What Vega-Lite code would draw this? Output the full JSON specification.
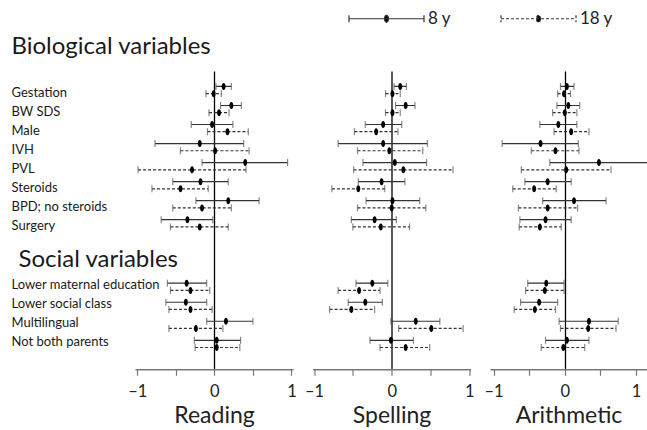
{
  "$schema": "https://vega.github.io/schema/vega-lite/v6.json",
  "padding": {"left": 11, "right": 0, "top": 10, "bottom": 0},
  "bounds": "flush",
  "spacing": 19.5,
  "datasets": {
    "d": [
      {"subject":"Reading","item":"Gestation","age":"8 y","est":0.12,"lo":0.02,"hi":0.22},
      {"subject":"Reading","item":"Gestation","age":"18 y","est":-0.01,"lo":-0.11,"hi":0.09},
      {"subject":"Reading","item":"BW SDS","age":"8 y","est":0.22,"lo":0.08,"hi":0.35},
      {"subject":"Reading","item":"BW SDS","age":"18 y","est":0.06,"lo":-0.07,"hi":0.19},
      {"subject":"Reading","item":"Male","age":"8 y","est":-0.03,"lo":-0.30,"hi":0.24},
      {"subject":"Reading","item":"Male","age":"18 y","est":0.17,"lo":-0.09,"hi":0.44},
      {"subject":"Reading","item":"IVH","age":"8 y","est":-0.19,"lo":-0.77,"hi":0.38},
      {"subject":"Reading","item":"IVH","age":"18 y","est":0.01,"lo":-0.44,"hi":0.45},
      {"subject":"Reading","item":"PVL","age":"8 y","est":0.40,"lo":-0.16,"hi":0.95},
      {"subject":"Reading","item":"PVL","age":"18 y","est":-0.29,"lo":-0.99,"hi":0.41},
      {"subject":"Reading","item":"Steroids","age":"8 y","est":-0.18,"lo":-0.54,"hi":0.18},
      {"subject":"Reading","item":"Steroids","age":"18 y","est":-0.44,"lo":-0.81,"hi":-0.08},
      {"subject":"Reading","item":"BPD; no steroids","age":"8 y","est":0.18,"lo":-0.24,"hi":0.58},
      {"subject":"Reading","item":"BPD; no steroids","age":"18 y","est":-0.16,"lo":-0.54,"hi":0.22},
      {"subject":"Reading","item":"Surgery","age":"8 y","est":-0.35,"lo":-0.69,"hi":-0.02},
      {"subject":"Reading","item":"Surgery","age":"18 y","est":-0.19,"lo":-0.57,"hi":0.18},
      {"subject":"Reading","item":"Lower maternal education","age":"8 y","est":-0.36,"lo":-0.61,"hi":-0.10},
      {"subject":"Reading","item":"Lower maternal education","age":"18 y","est":-0.31,"lo":-0.57,"hi":-0.06},
      {"subject":"Reading","item":"Lower social class","age":"8 y","est":-0.37,"lo":-0.63,"hi":-0.10},
      {"subject":"Reading","item":"Lower social class","age":"18 y","est":-0.31,"lo":-0.59,"hi":-0.03},
      {"subject":"Reading","item":"Multilingual","age":"8 y","est":0.15,"lo":-0.10,"hi":0.50},
      {"subject":"Reading","item":"Multilingual","age":"18 y","est":-0.24,"lo":-0.59,"hi":0.11},
      {"subject":"Reading","item":"Not both parents","age":"8 y","est":0.03,"lo":-0.26,"hi":0.34},
      {"subject":"Reading","item":"Not both parents","age":"18 y","est":0.03,"lo":-0.25,"hi":0.33},
      {"subject":"Spelling","item":"Gestation","age":"8 y","est":0.11,"lo":0.03,"hi":0.19},
      {"subject":"Spelling","item":"Gestation","age":"18 y","est":0.01,"lo":-0.08,"hi":0.11},
      {"subject":"Spelling","item":"BW SDS","age":"8 y","est":0.18,"lo":0.05,"hi":0.30},
      {"subject":"Spelling","item":"BW SDS","age":"18 y","est":0.01,"lo":-0.08,"hi":0.11},
      {"subject":"Spelling","item":"Male","age":"8 y","est":-0.11,"lo":-0.34,"hi":0.13},
      {"subject":"Spelling","item":"Male","age":"18 y","est":-0.20,"lo":-0.48,"hi":0.08},
      {"subject":"Spelling","item":"IVH","age":"8 y","est":-0.11,"lo":-0.69,"hi":0.46},
      {"subject":"Spelling","item":"IVH","age":"18 y","est":-0.03,"lo":-0.44,"hi":0.40},
      {"subject":"Spelling","item":"PVL","age":"8 y","est":0.04,"lo":-0.37,"hi":0.45},
      {"subject":"Spelling","item":"PVL","age":"18 y","est":0.15,"lo":-0.49,"hi":0.79},
      {"subject":"Spelling","item":"Steroids","age":"8 y","est":-0.13,"lo":-0.43,"hi":0.17},
      {"subject":"Spelling","item":"Steroids","age":"18 y","est":-0.43,"lo":-0.77,"hi":-0.09},
      {"subject":"Spelling","item":"BPD; no steroids","age":"8 y","est":0.01,"lo":-0.33,"hi":0.36},
      {"subject":"Spelling","item":"BPD; no steroids","age":"18 y","est":0.00,"lo":-0.44,"hi":0.44},
      {"subject":"Spelling","item":"Surgery","age":"8 y","est":-0.22,"lo":-0.52,"hi":0.06},
      {"subject":"Spelling","item":"Surgery","age":"18 y","est":-0.14,"lo":-0.50,"hi":0.23},
      {"subject":"Spelling","item":"Lower maternal education","age":"8 y","est":-0.25,"lo":-0.46,"hi":-0.05},
      {"subject":"Spelling","item":"Lower maternal education","age":"18 y","est":-0.42,"lo":-0.69,"hi":-0.15},
      {"subject":"Spelling","item":"Lower social class","age":"8 y","est":-0.34,"lo":-0.56,"hi":-0.12},
      {"subject":"Spelling","item":"Lower social class","age":"18 y","est":-0.52,"lo":-0.80,"hi":-0.22},
      {"subject":"Spelling","item":"Multilingual","age":"8 y","est":0.31,"lo":-0.01,"hi":0.62},
      {"subject":"Spelling","item":"Multilingual","age":"18 y","est":0.51,"lo":0.09,"hi":0.92},
      {"subject":"Spelling","item":"Not both parents","age":"8 y","est":-0.01,"lo":-0.28,"hi":0.28},
      {"subject":"Spelling","item":"Not both parents","age":"18 y","est":0.18,"lo":-0.15,"hi":0.49},
      {"subject":"Arithmetic","item":"Gestation","age":"8 y","est":0.03,"lo":-0.06,"hi":0.13},
      {"subject":"Arithmetic","item":"Gestation","age":"18 y","est":-0.01,"lo":-0.10,"hi":0.08},
      {"subject":"Arithmetic","item":"BW SDS","age":"8 y","est":0.05,"lo":-0.11,"hi":0.21},
      {"subject":"Arithmetic","item":"BW SDS","age":"18 y","est":0.00,"lo":-0.17,"hi":0.17},
      {"subject":"Arithmetic","item":"Male","age":"8 y","est":-0.09,"lo":-0.35,"hi":0.17},
      {"subject":"Arithmetic","item":"Male","age":"18 y","est":0.09,"lo":-0.15,"hi":0.34},
      {"subject":"Arithmetic","item":"IVH","age":"8 y","est":-0.34,"lo":-0.88,"hi":0.19},
      {"subject":"Arithmetic","item":"IVH","age":"18 y","est":-0.13,"lo":-0.47,"hi":0.20},
      {"subject":"Arithmetic","item":"PVL","age":"8 y","est":0.48,"lo":-0.21,"hi":1.20},
      {"subject":"Arithmetic","item":"PVL","age":"18 y","est":0.02,"lo":-0.61,"hi":0.65},
      {"subject":"Arithmetic","item":"Steroids","age":"8 y","est":-0.24,"lo":-0.56,"hi":0.09},
      {"subject":"Arithmetic","item":"Steroids","age":"18 y","est":-0.43,"lo":-0.73,"hi":-0.12},
      {"subject":"Arithmetic","item":"BPD; no steroids","age":"8 y","est":0.13,"lo":-0.31,"hi":0.58},
      {"subject":"Arithmetic","item":"BPD; no steroids","age":"18 y","est":-0.24,"lo":-0.65,"hi":0.18},
      {"subject":"Arithmetic","item":"Surgery","age":"8 y","est":-0.27,"lo":-0.63,"hi":0.09},
      {"subject":"Arithmetic","item":"Surgery","age":"18 y","est":-0.35,"lo":-0.64,"hi":-0.05},
      {"subject":"Arithmetic","item":"Lower maternal education","age":"8 y","est":-0.26,"lo":-0.52,"hi":-0.01},
      {"subject":"Arithmetic","item":"Lower maternal education","age":"18 y","est":-0.28,"lo":-0.55,"hi":-0.01},
      {"subject":"Arithmetic","item":"Lower social class","age":"8 y","est":-0.36,"lo":-0.62,"hi":-0.10},
      {"subject":"Arithmetic","item":"Lower social class","age":"18 y","est":-0.42,"lo":-0.71,"hi":-0.13},
      {"subject":"Arithmetic","item":"Multilingual","age":"8 y","est":0.34,"lo":-0.08,"hi":0.75},
      {"subject":"Arithmetic","item":"Multilingual","age":"18 y","est":0.33,"lo":-0.06,"hi":0.72},
      {"subject":"Arithmetic","item":"Not both parents","age":"8 y","est":0.03,"lo":-0.27,"hi":0.34},
      {"subject":"Arithmetic","item":"Not both parents","age":"18 y","est":-0.02,"lo":-0.33,"hi":0.28}
    ]
  },
  "data": {"name": "d"},
  "config": {
    "view": {"stroke": null},
    "font": "Lato",
    "axis": {"labelFont": "Lato", "titleFont": "Lato"},
    "axisX": {"grid": true, "gridWidth": 1.3, "domainColor": "#777", "domainWidth": 1.5, "tickColor": "#777", "tickWidth": 1.2, "tickSize": 6, "labelFontSize": 16.5, "labelColor": "#222", "labelPadding": 8, "labelFlush": false, "labelOverlap": false, "titleFontSize": 23, "titleFontWeight": "normal", "titleColor": "#222", "titlePadding": 5},
    "axisY": {"grid": false}
  },
  "hconcat": [
    {
      "width": 158, "height": 298.3,
      "transform": [{"filter": "datum.subject === 'Reading'"}],
      "encoding": {
        "y": {"field": "item", "type": "nominal",
          "scale": {"type": "point", "padding": 0, "domain": ["Biological variables","_1","_2","Gestation","_4","_5","BW SDS","_7","_8","Male","_10","_11","IVH","_13","_14","PVL","_16","_17","Steroids","_19","_20","BPD; no steroids","_22","_23","Surgery","_25","_26","_27","_28","_29","Social variables","_31","_32","_33","Lower maternal education","_35","_36","Lower social class","_38","_39","Multilingual","_41","_42","Not both parents","_44","_45","_46","_47"]},
          "axis": {
            "values": ["Biological variables","Gestation","BW SDS","Male","IVH","PVL","Steroids","BPD; no steroids","Surgery","Social variables","Lower maternal education","Lower social class","Multilingual","Not both parents"],
            "domain": false, "ticks": false, "title": null, "labelAlign": "left", "labelBaseline": "middle",
            "labelPadding": {"condition": {"test": "datum.value === 'Social variables'", "value": 117}, "value": 124},
            "labelOffset": {"condition": [{"test": "datum.value === 'Biological variables'", "value": -24}, {"test": "indexof(['Social variables','Lower maternal education','Lower social class','Multilingual','Not both parents'], datum.value) >= 0", "value": -2}], "value": 2.5},
            "labelFontSize": {"condition": {"test": "datum.value === 'Biological variables' || datum.value === 'Social variables'", "value": 24}, "value": 13},
            "labelColor": "#1a1a1a", "labelLimit": 400, "labelOverlap": false
          }
        }
      },
      "layer": [
        {"transform": [{"filter": "datum.age === '8 y'"}], "mark": {"type": "rule", "yOffset": -3.6, "color": "#333", "strokeWidth": 1.2},
         "encoding": {"x": {"field": "lo", "type": "quantitative", "scale": {"domain": [-1.03, 1.02], "nice": false, "zero": false},
           "axis": {"title": "Reading", "values": [-1, -0.5, 0, 0.5, 1], "labelExpr": "datum.value === -1 ? '–1' : datum.value === 0 ? '0' : datum.value === 1 ? '1' : ''", "gridColor": {"condition": {"test": "datum.value === 0", "value": "#000"}, "value": "transparent"}}}, "x2": {"field": "hi"},
           "strokeDash": {"field": "age", "type": "nominal", "scale": {"domain": ["8 y", "18 y"], "range": [[1, 0], [3, 2]]},
             "legend": {"orient": "none", "legendX": 243, "legendY": -61, "direction": "horizontal", "title": null, "symbolType": "M-7.5,-0.7L-7.5,0.7M-7.5,0L7.5,0M7.5,-0.7L7.5,0.7M0.4,0A0.4,0.7 0 1,1 -0.4,0A0.4,0.7 0 1,1 0.4,0Z", "symbolSize": 100, "symbolStrokeWidth": 1.2, "symbolStrokeColor": "#333", "symbolFillColor": "#000", "labelFont": "Lato", "labelFontSize": 17, "labelColor": "#222", "labelOffset": 33, "columnPadding": 47, "padding": 0, "encode": {"symbols": {"update": {"fill": {"value": "#000"}, "stroke": {"value": "#333"}}}}}}}},
        {"transform": [{"filter": "datum.age === '18 y'"}], "mark": {"type": "rule", "yOffset": 3.6, "color": "#333", "strokeWidth": 1.2},
         "encoding": {"x": {"field": "lo", "type": "quantitative", "scale": {"domain": [-1.03, 1.02], "nice": false, "zero": false},
           "axis": {"title": "Reading", "values": [-1, -0.5, 0, 0.5, 1], "labelExpr": "datum.value === -1 ? '–1' : datum.value === 0 ? '0' : datum.value === 1 ? '1' : ''", "gridColor": {"condition": {"test": "datum.value === 0", "value": "#000"}, "value": "transparent"}}}, "x2": {"field": "hi"},
           "strokeDash": {"field": "age", "type": "nominal", "scale": {"domain": ["8 y", "18 y"], "range": [[1, 0], [3, 2]]},
             "legend": {"orient": "none", "legendX": 243, "legendY": -61, "direction": "horizontal", "title": null, "symbolType": "M-7.5,-0.7L-7.5,0.7M-7.5,0L7.5,0M7.5,-0.7L7.5,0.7M0.4,0A0.4,0.7 0 1,1 -0.4,0A0.4,0.7 0 1,1 0.4,0Z", "symbolSize": 100, "symbolStrokeWidth": 1.2, "symbolStrokeColor": "#333", "symbolFillColor": "#000", "labelFont": "Lato", "labelFontSize": 17, "labelColor": "#222", "labelOffset": 33, "columnPadding": 47, "padding": 0, "encode": {"symbols": {"update": {"fill": {"value": "#000"}, "stroke": {"value": "#333"}}}}}}}},
        {"transform": [{"filter": "datum.age === '8 y'"}, {"fold": ["lo", "hi"], "as": ["end", "v"]}], "mark": {"type": "tick", "yOffset": -3.6, "color": "#555", "size": 7, "thickness": 1.2},
         "encoding": {"x": {"field": "v", "type": "quantitative", "scale": {"domain": [-1.03, 1.02], "nice": false, "zero": false},
           "axis": {"title": "Reading", "values": [-1, -0.5, 0, 0.5, 1], "labelExpr": "datum.value === -1 ? '–1' : datum.value === 0 ? '0' : datum.value === 1 ? '1' : ''", "gridColor": {"condition": {"test": "datum.value === 0", "value": "#000"}, "value": "transparent"}}}}},
        {"transform": [{"filter": "datum.age === '18 y'"}, {"fold": ["lo", "hi"], "as": ["end", "v"]}], "mark": {"type": "tick", "yOffset": 3.6, "color": "#555", "size": 7, "thickness": 1.2},
         "encoding": {"x": {"field": "v", "type": "quantitative", "scale": {"domain": [-1.03, 1.02], "nice": false, "zero": false},
           "axis": {"title": "Reading", "values": [-1, -0.5, 0, 0.5, 1], "labelExpr": "datum.value === -1 ? '–1' : datum.value === 0 ? '0' : datum.value === 1 ? '1' : ''", "gridColor": {"condition": {"test": "datum.value === 0", "value": "#000"}, "value": "transparent"}}}}},
        {"transform": [{"filter": "datum.age === '8 y'"}], "mark": {"type": "point", "yOffset": -3.6, "shape": "M0,-1A0.57,1 0 1,1 0,1A0.57,1 0 1,1 0,-1Z", "size": 49, "filled": true, "color": "#000", "opacity": 1},
         "encoding": {"x": {"field": "est", "type": "quantitative", "scale": {"domain": [-1.03, 1.02], "nice": false, "zero": false},
           "axis": {"title": "Reading", "values": [-1, -0.5, 0, 0.5, 1], "labelExpr": "datum.value === -1 ? '–1' : datum.value === 0 ? '0' : datum.value === 1 ? '1' : ''", "gridColor": {"condition": {"test": "datum.value === 0", "value": "#000"}, "value": "transparent"}}}}},
        {"transform": [{"filter": "datum.age === '18 y'"}], "mark": {"type": "point", "yOffset": 3.6, "shape": "M0,-1A0.57,1 0 1,1 0,1A0.57,1 0 1,1 0,-1Z", "size": 49, "filled": true, "color": "#000", "opacity": 1},
         "encoding": {"x": {"field": "est", "type": "quantitative", "scale": {"domain": [-1.03, 1.02], "nice": false, "zero": false},
           "axis": {"title": "Reading", "values": [-1, -0.5, 0, 0.5, 1], "labelExpr": "datum.value === -1 ? '–1' : datum.value === 0 ? '0' : datum.value === 1 ? '1' : ''", "gridColor": {"condition": {"test": "datum.value === 0", "value": "#000"}, "value": "transparent"}}}}}
      ]
    },
    {
      "width": 158, "height": 298.3,
      "transform": [{"filter": "datum.subject === 'Spelling'"}],
      "encoding": {
        "y": {"field": "item", "type": "nominal", "axis": null,
          "scale": {"type": "point", "padding": 0, "domain": ["Biological variables","_1","_2","Gestation","_4","_5","BW SDS","_7","_8","Male","_10","_11","IVH","_13","_14","PVL","_16","_17","Steroids","_19","_20","BPD; no steroids","_22","_23","Surgery","_25","_26","_27","_28","_29","Social variables","_31","_32","_33","Lower maternal education","_35","_36","Lower social class","_38","_39","Multilingual","_41","_42","Not both parents","_44","_45","_46","_47"]}}
      },
      "layer": [
        {"transform": [{"filter": "datum.age === '8 y'"}], "mark": {"type": "rule", "yOffset": -3.6, "color": "#333", "strokeWidth": 1.2},
         "encoding": {"x": {"field": "lo", "type": "quantitative", "scale": {"domain": [-1.02, 1.015], "nice": false, "zero": false},
           "axis": {"title": "Spelling", "values": [-1, -0.5, 0, 0.5, 1], "labelExpr": "datum.value === -1 ? '–1' : datum.value === 0 ? '0' : datum.value === 1 ? '1' : ''", "gridColor": {"condition": {"test": "datum.value === 0", "value": "#000"}, "value": "transparent"}}}, "x2": {"field": "hi"},
           "strokeDash": {"field": "age", "type": "nominal", "scale": {"domain": ["8 y", "18 y"], "range": [[1, 0], [3, 2]]},
             "legend": {"orient": "none", "legendX": 243, "legendY": -61, "direction": "horizontal", "title": null, "symbolType": "M-7.5,-0.7L-7.5,0.7M-7.5,0L7.5,0M7.5,-0.7L7.5,0.7M0.4,0A0.4,0.7 0 1,1 -0.4,0A0.4,0.7 0 1,1 0.4,0Z", "symbolSize": 100, "symbolStrokeWidth": 1.2, "symbolStrokeColor": "#333", "symbolFillColor": "#000", "labelFont": "Lato", "labelFontSize": 17, "labelColor": "#222", "labelOffset": 33, "columnPadding": 47, "padding": 0, "encode": {"symbols": {"update": {"fill": {"value": "#000"}, "stroke": {"value": "#333"}}}}}}}},
        {"transform": [{"filter": "datum.age === '18 y'"}], "mark": {"type": "rule", "yOffset": 3.6, "color": "#333", "strokeWidth": 1.2},
         "encoding": {"x": {"field": "lo", "type": "quantitative", "scale": {"domain": [-1.02, 1.015], "nice": false, "zero": false},
           "axis": {"title": "Spelling", "values": [-1, -0.5, 0, 0.5, 1], "labelExpr": "datum.value === -1 ? '–1' : datum.value === 0 ? '0' : datum.value === 1 ? '1' : ''", "gridColor": {"condition": {"test": "datum.value === 0", "value": "#000"}, "value": "transparent"}}}, "x2": {"field": "hi"},
           "strokeDash": {"field": "age", "type": "nominal", "scale": {"domain": ["8 y", "18 y"], "range": [[1, 0], [3, 2]]},
             "legend": {"orient": "none", "legendX": 243, "legendY": -61, "direction": "horizontal", "title": null, "symbolType": "M-7.5,-0.7L-7.5,0.7M-7.5,0L7.5,0M7.5,-0.7L7.5,0.7M0.4,0A0.4,0.7 0 1,1 -0.4,0A0.4,0.7 0 1,1 0.4,0Z", "symbolSize": 100, "symbolStrokeWidth": 1.2, "symbolStrokeColor": "#333", "symbolFillColor": "#000", "labelFont": "Lato", "labelFontSize": 17, "labelColor": "#222", "labelOffset": 33, "columnPadding": 47, "padding": 0, "encode": {"symbols": {"update": {"fill": {"value": "#000"}, "stroke": {"value": "#333"}}}}}}}},
        {"transform": [{"filter": "datum.age === '8 y'"}, {"fold": ["lo", "hi"], "as": ["end", "v"]}], "mark": {"type": "tick", "yOffset": -3.6, "color": "#555", "size": 7, "thickness": 1.2},
         "encoding": {"x": {"field": "v", "type": "quantitative", "scale": {"domain": [-1.02, 1.015], "nice": false, "zero": false},
           "axis": {"title": "Spelling", "values": [-1, -0.5, 0, 0.5, 1], "labelExpr": "datum.value === -1 ? '–1' : datum.value === 0 ? '0' : datum.value === 1 ? '1' : ''", "gridColor": {"condition": {"test": "datum.value === 0", "value": "#000"}, "value": "transparent"}}}}},
        {"transform": [{"filter": "datum.age === '18 y'"}, {"fold": ["lo", "hi"], "as": ["end", "v"]}], "mark": {"type": "tick", "yOffset": 3.6, "color": "#555", "size": 7, "thickness": 1.2},
         "encoding": {"x": {"field": "v", "type": "quantitative", "scale": {"domain": [-1.02, 1.015], "nice": false, "zero": false},
           "axis": {"title": "Spelling", "values": [-1, -0.5, 0, 0.5, 1], "labelExpr": "datum.value === -1 ? '–1' : datum.value === 0 ? '0' : datum.value === 1 ? '1' : ''", "gridColor": {"condition": {"test": "datum.value === 0", "value": "#000"}, "value": "transparent"}}}}},
        {"transform": [{"filter": "datum.age === '8 y'"}], "mark": {"type": "point", "yOffset": -3.6, "shape": "M0,-1A0.57,1 0 1,1 0,1A0.57,1 0 1,1 0,-1Z", "size": 49, "filled": true, "color": "#000", "opacity": 1},
         "encoding": {"x": {"field": "est", "type": "quantitative", "scale": {"domain": [-1.02, 1.015], "nice": false, "zero": false},
           "axis": {"title": "Spelling", "values": [-1, -0.5, 0, 0.5, 1], "labelExpr": "datum.value === -1 ? '–1' : datum.value === 0 ? '0' : datum.value === 1 ? '1' : ''", "gridColor": {"condition": {"test": "datum.value === 0", "value": "#000"}, "value": "transparent"}}}}},
        {"transform": [{"filter": "datum.age === '18 y'"}], "mark": {"type": "point", "yOffset": 3.6, "shape": "M0,-1A0.57,1 0 1,1 0,1A0.57,1 0 1,1 0,-1Z", "size": 49, "filled": true, "color": "#000", "opacity": 1},
         "encoding": {"x": {"field": "est", "type": "quantitative", "scale": {"domain": [-1.02, 1.015], "nice": false, "zero": false},
           "axis": {"title": "Spelling", "values": [-1, -0.5, 0, 0.5, 1], "labelExpr": "datum.value === -1 ? '–1' : datum.value === 0 ? '0' : datum.value === 1 ? '1' : ''", "gridColor": {"condition": {"test": "datum.value === 0", "value": "#000"}, "value": "transparent"}}}}}
      ]
    },
    {
      "width": 157, "height": 298.3,
      "transform": [{"filter": "datum.subject === 'Arithmetic'"}],
      "encoding": {
        "y": {"field": "item", "type": "nominal", "axis": null,
          "scale": {"type": "point", "padding": 0, "domain": ["Biological variables","_1","_2","Gestation","_4","_5","BW SDS","_7","_8","Male","_10","_11","IVH","_13","_14","PVL","_16","_17","Steroids","_19","_20","BPD; no steroids","_22","_23","Surgery","_25","_26","_27","_28","_29","Social variables","_31","_32","_33","Lower maternal education","_35","_36","Lower social class","_38","_39","Multilingual","_41","_42","Not both parents","_44","_45","_46","_47"]}}
      },
      "layer": [
        {"transform": [{"filter": "datum.age === '8 y'"}], "mark": {"type": "rule", "yOffset": -3.6, "color": "#333", "strokeWidth": 1.2, "clip": true},
         "encoding": {"x": {"field": "lo", "type": "quantitative", "scale": {"domain": [-1.05, 1.155], "nice": false, "zero": false},
           "axis": {"title": "Arithmetic", "values": [-1, -0.5, 0, 0.5, 1], "labelExpr": "datum.value === -1 ? '–1' : datum.value === 0 ? '0' : datum.value === 1 ? '1' : ''", "gridColor": {"condition": {"test": "datum.value === 0", "value": "#000"}, "value": "transparent"}}}, "x2": {"field": "hi"},
           "strokeDash": {"field": "age", "type": "nominal", "scale": {"domain": ["8 y", "18 y"], "range": [[1, 0], [3, 2]]},
             "legend": {"orient": "none", "legendX": 243, "legendY": -61, "direction": "horizontal", "title": null, "symbolType": "M-7.5,-0.7L-7.5,0.7M-7.5,0L7.5,0M7.5,-0.7L7.5,0.7M0.4,0A0.4,0.7 0 1,1 -0.4,0A0.4,0.7 0 1,1 0.4,0Z", "symbolSize": 100, "symbolStrokeWidth": 1.2, "symbolStrokeColor": "#333", "symbolFillColor": "#000", "labelFont": "Lato", "labelFontSize": 17, "labelColor": "#222", "labelOffset": 33, "columnPadding": 47, "padding": 0, "encode": {"symbols": {"update": {"fill": {"value": "#000"}, "stroke": {"value": "#333"}}}}}}}},
        {"transform": [{"filter": "datum.age === '18 y'"}], "mark": {"type": "rule", "yOffset": 3.6, "color": "#333", "strokeWidth": 1.2, "clip": true},
         "encoding": {"x": {"field": "lo", "type": "quantitative", "scale": {"domain": [-1.05, 1.155], "nice": false, "zero": false},
           "axis": {"title": "Arithmetic", "values": [-1, -0.5, 0, 0.5, 1], "labelExpr": "datum.value === -1 ? '–1' : datum.value === 0 ? '0' : datum.value === 1 ? '1' : ''", "gridColor": {"condition": {"test": "datum.value === 0", "value": "#000"}, "value": "transparent"}}}, "x2": {"field": "hi"},
           "strokeDash": {"field": "age", "type": "nominal", "scale": {"domain": ["8 y", "18 y"], "range": [[1, 0], [3, 2]]},
             "legend": {"orient": "none", "legendX": 243, "legendY": -61, "direction": "horizontal", "title": null, "symbolType": "M-7.5,-0.7L-7.5,0.7M-7.5,0L7.5,0M7.5,-0.7L7.5,0.7M0.4,0A0.4,0.7 0 1,1 -0.4,0A0.4,0.7 0 1,1 0.4,0Z", "symbolSize": 100, "symbolStrokeWidth": 1.2, "symbolStrokeColor": "#333", "symbolFillColor": "#000", "labelFont": "Lato", "labelFontSize": 17, "labelColor": "#222", "labelOffset": 33, "columnPadding": 47, "padding": 0, "encode": {"symbols": {"update": {"fill": {"value": "#000"}, "stroke": {"value": "#333"}}}}}}}},
        {"transform": [{"filter": "datum.age === '8 y'"}, {"fold": ["lo", "hi"], "as": ["end", "v"]}], "mark": {"type": "tick", "yOffset": -3.6, "color": "#555", "size": 7, "thickness": 1.2, "clip": true},
         "encoding": {"x": {"field": "v", "type": "quantitative", "scale": {"domain": [-1.05, 1.155], "nice": false, "zero": false},
           "axis": {"title": "Arithmetic", "values": [-1, -0.5, 0, 0.5, 1], "labelExpr": "datum.value === -1 ? '–1' : datum.value === 0 ? '0' : datum.value === 1 ? '1' : ''", "gridColor": {"condition": {"test": "datum.value === 0", "value": "#000"}, "value": "transparent"}}}}},
        {"transform": [{"filter": "datum.age === '18 y'"}, {"fold": ["lo", "hi"], "as": ["end", "v"]}], "mark": {"type": "tick", "yOffset": 3.6, "color": "#555", "size": 7, "thickness": 1.2, "clip": true},
         "encoding": {"x": {"field": "v", "type": "quantitative", "scale": {"domain": [-1.05, 1.155], "nice": false, "zero": false},
           "axis": {"title": "Arithmetic", "values": [-1, -0.5, 0, 0.5, 1], "labelExpr": "datum.value === -1 ? '–1' : datum.value === 0 ? '0' : datum.value === 1 ? '1' : ''", "gridColor": {"condition": {"test": "datum.value === 0", "value": "#000"}, "value": "transparent"}}}}},
        {"transform": [{"filter": "datum.age === '8 y'"}], "mark": {"type": "point", "yOffset": -3.6, "shape": "M0,-1A0.57,1 0 1,1 0,1A0.57,1 0 1,1 0,-1Z", "size": 49, "filled": true, "color": "#000", "opacity": 1, "clip": true},
         "encoding": {"x": {"field": "est", "type": "quantitative", "scale": {"domain": [-1.05, 1.155], "nice": false, "zero": false},
           "axis": {"title": "Arithmetic", "values": [-1, -0.5, 0, 0.5, 1], "labelExpr": "datum.value === -1 ? '–1' : datum.value === 0 ? '0' : datum.value === 1 ? '1' : ''", "gridColor": {"condition": {"test": "datum.value === 0", "value": "#000"}, "value": "transparent"}}}}},
        {"transform": [{"filter": "datum.age === '18 y'"}], "mark": {"type": "point", "yOffset": 3.6, "shape": "M0,-1A0.57,1 0 1,1 0,1A0.57,1 0 1,1 0,-1Z", "size": 49, "filled": true, "color": "#000", "opacity": 1, "clip": true},
         "encoding": {"x": {"field": "est", "type": "quantitative", "scale": {"domain": [-1.05, 1.155], "nice": false, "zero": false},
           "axis": {"title": "Arithmetic", "values": [-1, -0.5, 0, 0.5, 1], "labelExpr": "datum.value === -1 ? '–1' : datum.value === 0 ? '0' : datum.value === 1 ? '1' : ''", "gridColor": {"condition": {"test": "datum.value === 0", "value": "#000"}, "value": "transparent"}}}}}
      ]
    }
  ]
}
